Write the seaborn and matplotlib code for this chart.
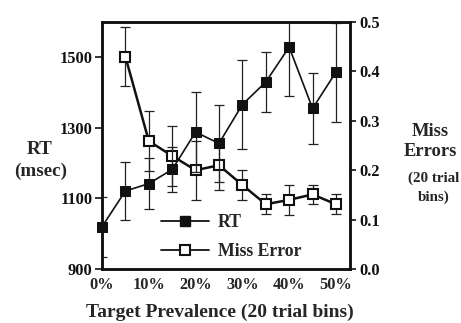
import numpy as np
import pandas as pd
import matplotlib
matplotlib.use("Agg")
import matplotlib.pyplot as plt
from matplotlib.lines import Line2D
import seaborn as sns

# ---- data ----
prevalence = [0, 5, 10, 15, 20, 25, 30, 35, 40, 45, 50]
rt_ms = [1020, 1121, 1142, 1182, 1288, 1256, 1366, 1430, 1529, 1355, 1458]
rt_err = [85, 83, 73, 64, 113, 110, 125, 85, 140, 100, 140]

miss_prev = [5, 10, 15, 20, 25, 30, 35, 40, 45, 50]
miss_rate = [0.430, 0.259, 0.229, 0.200, 0.210, 0.170, 0.131, 0.140, 0.151, 0.131]
miss_err = [0.06, 0.06, 0.06, 0.06, 0.05, 0.03, 0.02, 0.03, 0.02, 0.02]

rt_ticks = [900, 1100, 1300, 1500]
miss_ticks = [0.0, 0.1, 0.2, 0.3, 0.4, 0.5]
x_ticks = [0, 10, 20, 30, 40, 50]
x_labels = ["0%", "10%", "20%", "30%", "40%", "50%"]

sns.set_style("white")
plt.rcParams["font.family"] = ["Liberation Serif", "DejaVu Serif"]
plt.rcParams["font.weight"] = "bold"

df_rt = pd.DataFrame({"x": prevalence, "y": rt_ms})
df_miss = pd.DataFrame({"x": miss_prev, "y": miss_rate})

fig = plt.figure(figsize=(4.61, 3.23), dpi=100)
ax = fig.add_axes([102 / 461, 1 - 269 / 323, 248 / 461, 247 / 323])
ax2 = ax.twinx()

# RT
ax.errorbar(prevalence, rt_ms, yerr=rt_err, fmt="none", ecolor="#222222",
            elinewidth=0.9, capsize=3.3, capthick=0.9, zorder=2)
sns.lineplot(data=df_rt, x="x", y="y", ax=ax, color="#111111", lw=1.2,
             marker="s", markersize=7.6, markerfacecolor="#111111",
             markeredgecolor="#111111", clip_on=False, zorder=3)

# Miss errors
ax2.errorbar(miss_prev, miss_rate, yerr=miss_err, fmt="none", ecolor="#222222",
             elinewidth=0.9, capsize=3.3, capthick=0.9, zorder=2)
sns.lineplot(data=df_miss, x="x", y="y", ax=ax2, color="#111111", lw=1.8,
             marker="s", markersize=7.6, markerfacecolor="white",
             markeredgecolor="#111111", markeredgewidth=1.5, zorder=3)

ax.set_xlim(0, 53)
ax.set_ylim(900, 1600)
ax2.set_ylim(0, 0.5)

ax.set_xticks(x_ticks)
ax.set_xticklabels(x_labels)
ax.set_yticks(rt_ticks)
ax.set_yticklabels([str(t) for t in rt_ticks])
ax2.set_yticks(miss_ticks)
ax2.set_yticklabels([f"{t:.1f}" for t in miss_ticks])

ax.set_xlabel("")
ax.set_ylabel("")
ax2.set_xlabel("")
ax2.set_ylabel("")

for a in (ax, ax2):
    for s in a.spines.values():
        s.set_visible(True)
        s.set_linewidth(1.8)
        s.set_color("#111111")

ax.tick_params(axis="x", length=0, pad=6, labelsize=11.8)
ax.tick_params(axis="y", direction="out", length=5, width=1.2, pad=2,
               labelsize=11.8, left=True, colors="#111111")
ax2.tick_params(axis="y", direction="out", length=4, width=1.2, pad=3,
                labelsize=11.8, right=True, colors="#111111")
for lab in ax.get_xticklabels() + ax.get_yticklabels() + ax2.get_yticklabels():
    lab.set_fontweight("bold")

ax.set_zorder(ax2.get_zorder() + 1)
ax.patch.set_visible(False)

# legend
handles = [
    Line2D([], [], color="#111111", lw=1.3, marker="s", markersize=7.6,
           markerfacecolor="#111111", markeredgecolor="#111111"),
    Line2D([], [], color="#111111", lw=1.3, marker="s", markersize=7.6,
           markerfacecolor="white", markeredgecolor="#111111", markeredgewidth=1.5),
]
fig.legend(handles, ["RT", "Miss Error"], loc="upper left",
           bbox_to_anchor=(161 / 461, 1 - 214 / 323), frameon=False,
           borderpad=0, borderaxespad=0, handlelength=2.7, handletextpad=0.5,
           labelspacing=0.68, prop={"family": "Liberation Serif", "weight": "bold", "size": 12.8})

# axis titles
fig.text(40 / 461, 1 - 150 / 323, "RT", ha="center", va="center",
         fontsize=13.8, fontweight="bold")
fig.text(41 / 461, 1 - 171 / 323, "(msec)", ha="center", va="center",
         fontsize=13.8, fontweight="bold")
fig.text(430 / 461, 1 - 131 / 323, "Miss", ha="center", va="center",
         fontsize=13.3, fontweight="bold")
fig.text(430 / 461, 1 - 152 / 323, "Errors", ha="center", va="center",
         fontsize=13.3, fontweight="bold")
fig.text(434 / 461, 1 - 178 / 323, "(20 trial", ha="center", va="center",
         fontsize=10.8, fontweight="bold")
fig.text(434 / 461, 1 - 197 / 323, "bins)", ha="center", va="center",
         fontsize=10.8, fontweight="bold")
fig.text(220 / 461, 1 - 312 / 323, "Target Prevalence (20 trial bins)",
         ha="center", va="center", fontsize=14, fontweight="bold")

fig.savefig("out.png", dpi=100)
